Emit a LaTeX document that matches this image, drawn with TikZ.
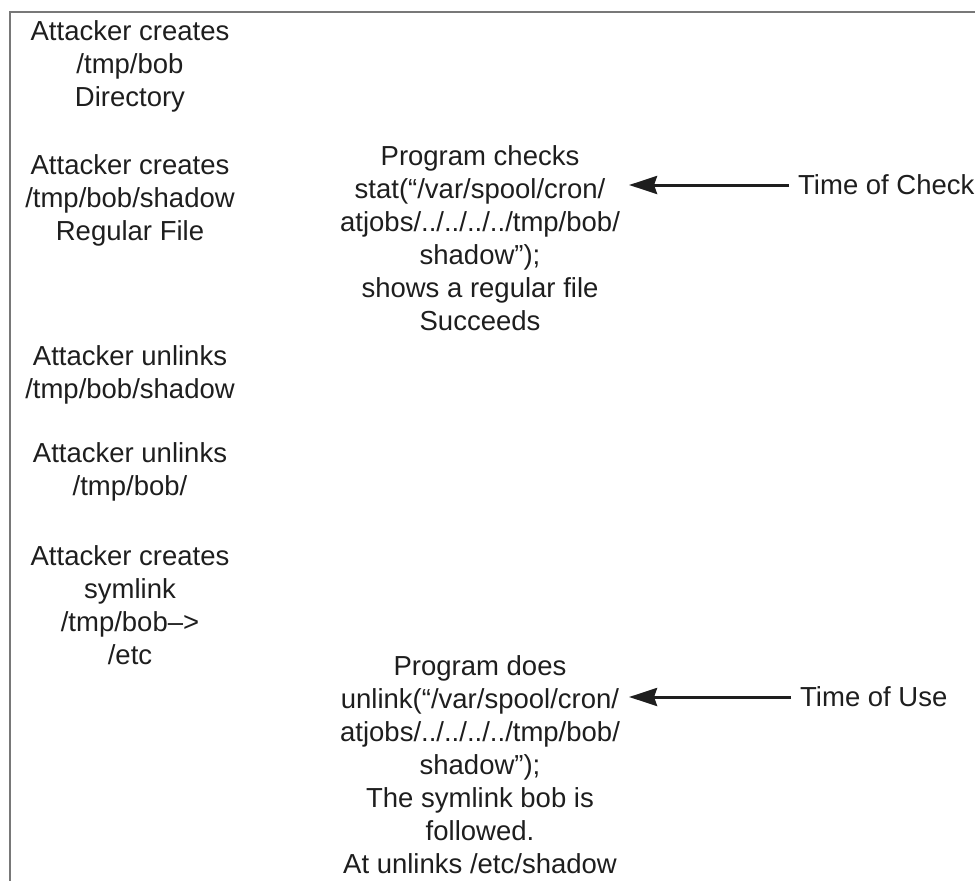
\documentclass[tikz,border=0pt]{standalone}
\usepackage{fontspec}
\setmainfont{Liberation Sans}
\usepackage{xcolor}
\usepackage{tikz}
\usetikzlibrary{positioning,arrows.meta}
\definecolor{inkgray}{RGB}{30,30,30}
\definecolor{framegray}{RGB}{120,120,120}
\tikzset{
  step-text/.style={font=\fontsize{27.5pt}{33pt}\selectfont, align=center,
    text=inkgray, inner sep=9pt},
  time-label/.style={font=\fontsize{27.5pt}{33pt}\selectfont, text=inkgray,
    anchor=west, inner sep=9pt},
  time-arrow/.style={-{Stealth[length=28pt, width=18pt, inset=3pt]},
    line width=3pt, draw=inkgray},
  frame-line/.style={draw=framegray, line width=2pt}
}

\begin{document}
\begin{tikzpicture}[x=1pt, y=-1pt]
\useasboundingbox (0,0) rectangle (975,881);
\draw[frame-line] (10,881) -- (10,12) -- (975,12);
% attacker steps
\node[step-text] (mkdir) at (130, 66.5) {Attacker creates\\/tmp/bob\\Directory};
\node[step-text] (mkfile) at (130, 200) {Attacker creates\\/tmp/bob/shadow\\Regular File};
\node[step-text] (rmfile) at (130, 375) {Attacker unlinks\\/tmp/bob/shadow};
\node[step-text] (rmdir) at (130, 471.5) {Attacker unlinks\\/tmp/bob/};
\node[step-text] (mklink) at (130, 605) {Attacker creates\\symlink\\/tmp/bob–>\\/etc};
% program steps
\node[step-text] (check) at (480, 238.5)
  {Program checks\\stat(“/var/spool/cron/\\atjobs/../../../../tmp/bob/\\shadow”);\\shows a regular file\\Succeeds};
\node[step-text, inner ysep=2pt] (use) at (480, 765)
  {Program does\\unlink(“/var/spool/cron/\\atjobs/../../../../tmp/bob/\\shadow”);\\The symlink bob is\\followed.\\At unlinks /etc/shadow};
% time markers
\node[time-label] (tcheck) at (789, 185) {Time of Check};
\node[time-label] (tuse) at (791, 697) {Time of Use};
\draw[time-arrow] (tcheck.west) -- (tcheck.west -| check.east);
\draw[time-arrow] (tuse.west) -- (tuse.west -| use.east);
\end{tikzpicture}
\end{document}
